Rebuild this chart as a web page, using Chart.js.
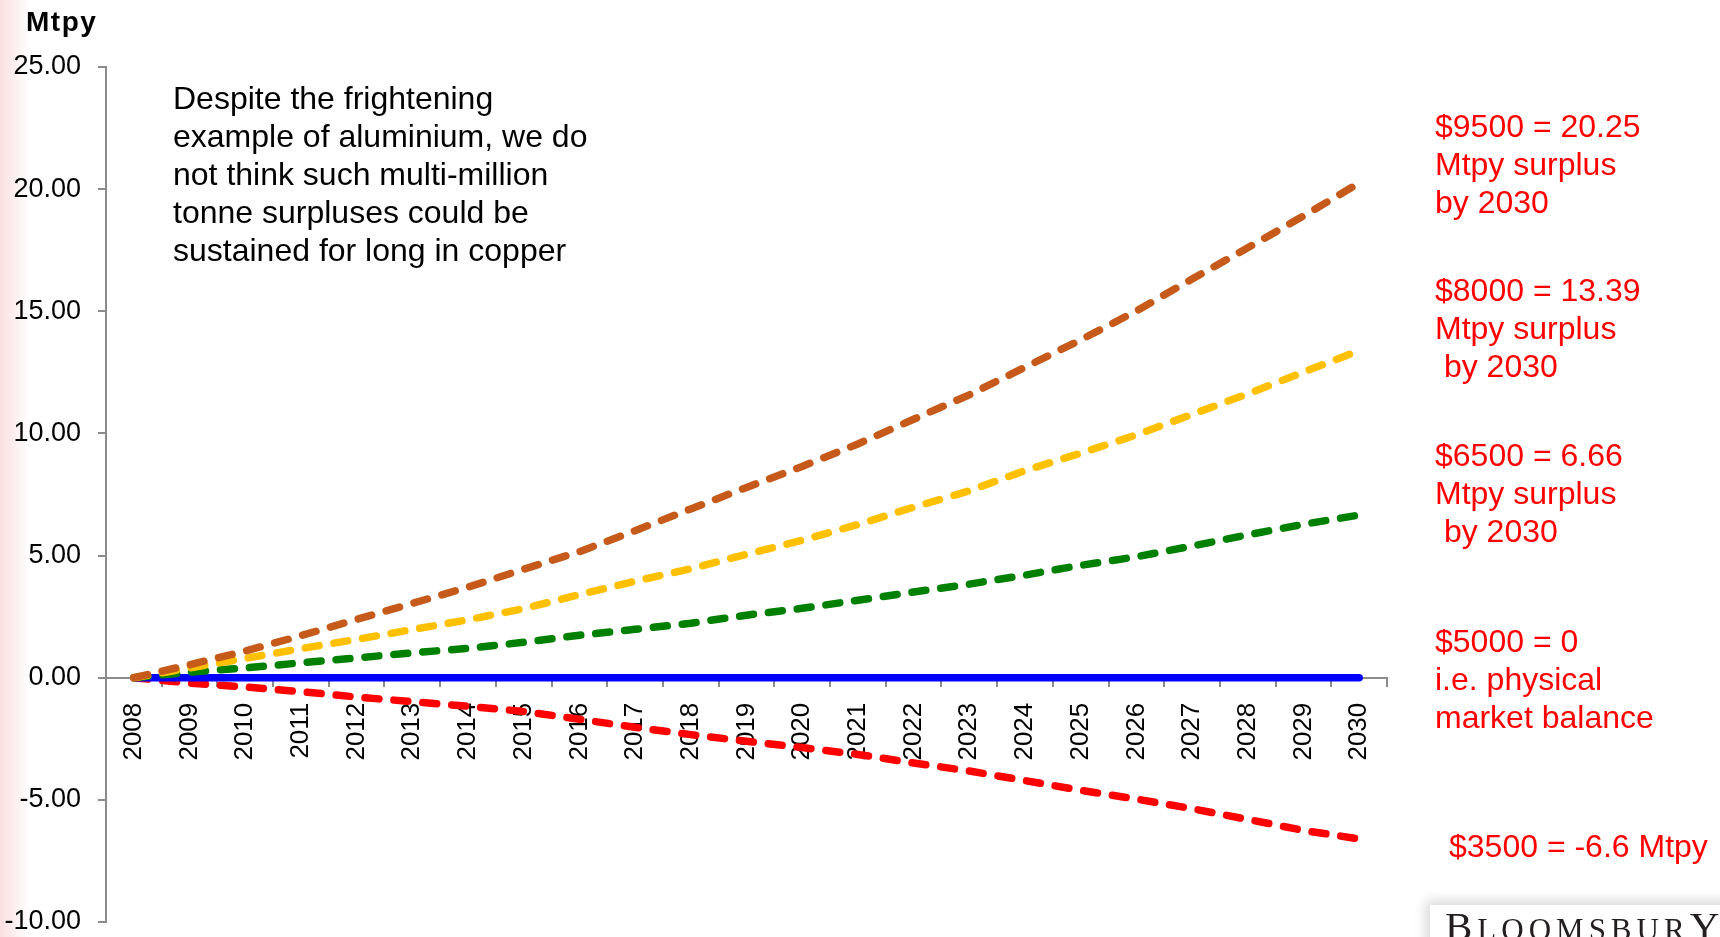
<!DOCTYPE html>
<html>
<head>
<meta charset="utf-8">
<title>Copper market balance by price scenario</title>
<script src="https://cdn.jsdelivr.net/npm/chart.js@4.4.1/dist/chart.umd.min.js"></script>
<style>
  html, body { margin: 0; padding: 0; background: #fff; }
  #page {
    position: relative; width: 1720px; height: 937px; overflow: hidden;
    background: linear-gradient(to right, #fbe0e0 0px, #fff 30px);
    font-family: "Liberation Sans", Arial, sans-serif;
  }
  #chart { position: absolute; left: 0; top: 0; }
  .note { position: absolute; font-size: 32px; line-height: 38px; white-space: pre; color: #000; }
  .red { color: #ff0000; }
  #unit { position: absolute; left: 26px; top: 8px; font-size: 28px; line-height: 28px; font-weight: bold; letter-spacing: 1.5px; }
  #logo {
    position: absolute; left: 1430px; top: 905px; width: 320px; height: 60px; background: #fff;
    box-shadow: -4px -4px 12px rgba(0, 0, 0, 0.16);
  }
  #logo div {
    position: absolute; left: 15px; top: 1px; font-family: "Liberation Serif", "Times New Roman", serif;
    font-size: 41px; line-height: 40px; color: #231f20; letter-spacing: 5px; white-space: nowrap;
  }
  #logo .sc { font-size: 31px; }
</style>
</head>
<body>
<div id="page">
  <canvas id="chart" width="1720" height="937"></canvas>

  <div id="unit">Mtpy</div>

  <div class="note" style="left:173px; top:79px;">Despite the frightening
example of aluminium, we do
not think such multi-million
tonne surpluses could be
sustained for long in copper</div>

  <div class="note red" style="left:1435px; top:107px;">$9500 = 20.25
Mtpy surplus
by 2030</div>
  <div class="note red" style="left:1435px; top:271px;">$8000 = 13.39
Mtpy surplus
 by 2030</div>
  <div class="note red" style="left:1435px; top:436px;">$6500 = 6.66
Mtpy surplus
 by 2030</div>
  <div class="note red" style="left:1435px; top:622px;">$5000 = 0
i.e. physical
market balance</div>
  <div class="note red" style="left:1449px; top:827px;">$3500 = -6.6 Mtpy</div>

  <div id="logo"><div>B<span class="sc">LOOMSBUR</span>Y</div></div>
</div>

<script>
// cumulative surplus (Mtpy) under each copper price assumption
const years = ["2008", "2009", "2010", "2011", "2012", "2013", "2014", "2015", "2016", "2017", "2018",
  "2019", "2020", "2021", "2022", "2023", "2024", "2025", "2026", "2027", "2028", "2029", "2030"];

const price9500 = [0, 0.53, 1.09, 1.72, 2.39, 3.04, 3.71, 4.44, 5.16, 6.02, 6.91,
  7.79, 8.65, 9.57, 10.58, 11.58, 12.71, 13.83, 15.01, 16.32, 17.60, 18.90, 20.25];
const price8000 = [0, 0.40, 0.79, 1.19, 1.57, 1.97, 2.37, 2.83, 3.40, 3.95, 4.46,
  5.05, 5.63, 6.27, 6.98, 7.65, 8.48, 9.19, 9.94, 10.78, 11.62, 12.51, 13.39];
const price6500 = [0, 0.23, 0.40, 0.61, 0.81, 1.02, 1.20, 1.45, 1.74, 1.98, 2.23,
  2.56, 2.84, 3.17, 3.51, 3.83, 4.20, 4.60, 4.95, 5.39, 5.85, 6.28, 6.66];
const price5000 = [0, 0, 0, 0, 0, 0, 0, 0, 0, 0, 0,
  0, 0, 0, 0, 0, 0, 0, 0, 0, 0, 0, 0];
const price3500 = [0, -0.22, -0.38, -0.57, -0.79, -0.98, -1.17, -1.38, -1.70, -2.03, -2.33,
  -2.60, -2.86, -3.14, -3.49, -3.82, -4.21, -4.61, -4.97, -5.36, -5.80, -6.25, -6.6];

const FONT = "'Liberation Sans', Arial, sans-serif";
const AXIS_GREY = "#8c8c8c";

function dashed(label, data, color) {
  return {
    label, data,
    borderColor: color, backgroundColor: color,
    borderWidth: 7.5, borderDash: [14, 15], borderCapStyle: "round",
    pointRadius: 0, tension: 0, fill: false,
  };
}

// first dataset is painted last, so the highest price sits on top
const datasets = [
  dashed("$9500", price9500, "#c55a1b"),
  dashed("$8000", price8000, "#ffc000"),
  dashed("$6500", price6500, "#008000"),
  { label: "$5000", data: price5000, borderColor: "#0000ff", backgroundColor: "#0000ff",
    borderWidth: 7.5, borderCapStyle: "round", pointRadius: 0, fill: false },
  dashed("$3500", price3500, "#ff0000"),
];

new Chart(document.getElementById("chart"), {
  type: "line",
  data: { labels: years, datasets },
  options: {
    responsive: false,
    animation: false,
    events: [],
    layout: { padding: { left: 0, top: 67, right: 333, bottom: 15 } },
    plugins: { legend: { display: false }, tooltip: { enabled: false } },
    scales: {
      x: {
        type: "category",
        position: { y: 0 },
        offset: true,
        // the axis floats at zero, so it takes no room below the plot
        afterFit: (s) => { s.height = 0; s.paddingBottom = 0; s.paddingTop = 0; },
        grid: { offset: true, drawOnChartArea: false, drawTicks: true, tickLength: 8, color: AXIS_GREY, lineWidth: 2 },
        border: { color: AXIS_GREY, width: 2 },
        ticks: {
          autoSkip: false, minRotation: 90, maxRotation: 90, padding: 17,
          color: "#000", font: { family: FONT, size: 26 },
        },
      },
      y: {
        min: -10, max: 25,
        afterFit: (s) => { s.width = 106; s.paddingTop = 0; s.paddingBottom = 0; },
        grid: { drawOnChartArea: false, tickLength: 8, color: AXIS_GREY, lineWidth: 2 },
        border: { color: AXIS_GREY, width: 2 },
        ticks: {
          stepSize: 5, padding: 17, color: "#000",
          font: { family: FONT, size: 27 },
          callback: (v) => v.toFixed(2),
        },
      },
    },
  },
});
</script>
</body>
</html>
